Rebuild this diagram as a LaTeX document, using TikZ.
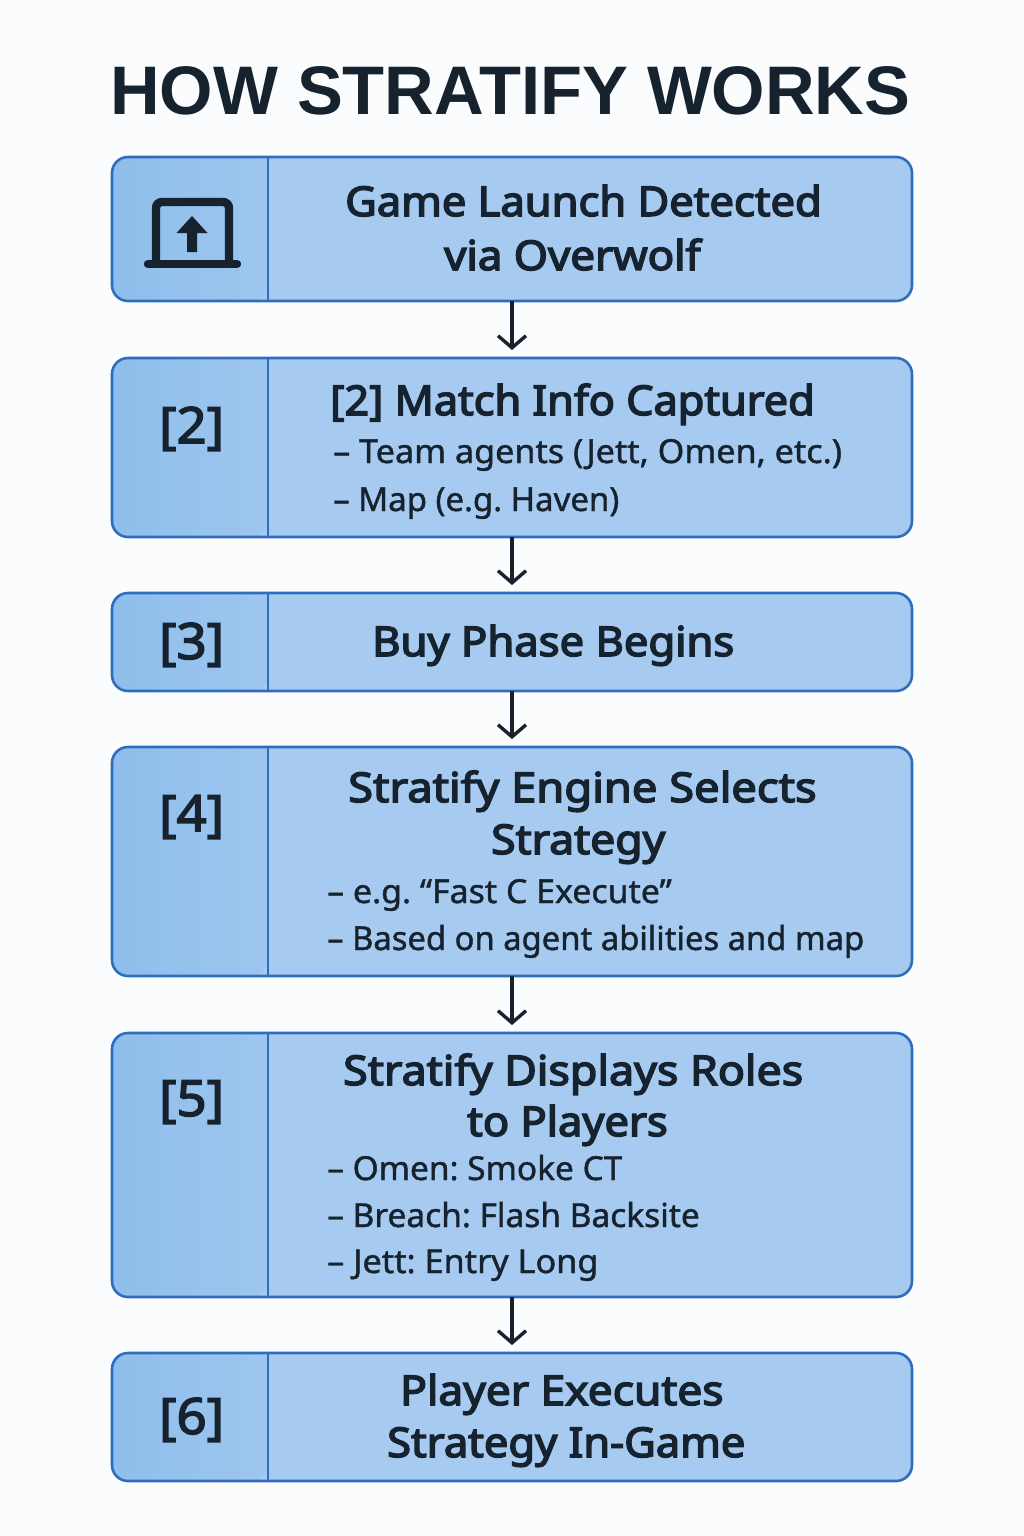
\documentclass[tikz,border=0pt]{standalone}
\usepackage{fontspec}
\setmainfont{Liberation Sans}
\newfontfamily\headfont[FakeStretch=1.055]{Noto Sans}
\newfontfamily\bodyfont{Noto Sans}
\usetikzlibrary{arrows.meta}
\frenchspacing
\definecolor{pagebg}{HTML}{FBFCFD}
\definecolor{edgeblue}{HTML}{2F6DBE}
\definecolor{celllight}{HTML}{A6CAF0}
\definecolor{celldarkA}{HTML}{8FBEEC}
\definecolor{celldarkB}{HTML}{9DC6EF}
\definecolor{inkdark}{HTML}{16232F}
\newcommand{\heavyon}{\special{pdf:code 2 Tr 1.5 w}}
\newcommand{\lighton}{\special{pdf:code 2 Tr 0.4 w}}
\newcommand{\heavyoff}{\special{pdf:code 0 Tr 1 w}}
\newcommand{\lw}[1]{\addfontfeatures{FakeStretch=#1}}
\tikzset{
  x=1pt,y=-1pt,
  panel/.style={draw=none,fill=celllight,rounded corners=16pt,minimum width=800pt,inner sep=0pt,outer sep=0pt},
  panelline/.style={draw=edgeblue,line width=2.6pt,rounded corners=16pt},
  flowarrow/.style={draw=inkdark,line width=3.4pt,-{Straight Barb[length=12pt,width=28pt,line width=3.4pt]},shorten >=8pt},
  title/.style={anchor=base west,inner sep=0pt,text=inkdark,font=\bfseries\fontsize{68.7}{70}\selectfont},
  head/.style={anchor=base west,inner sep=0pt,text=inkdark,font=\headfont\fontsize{41}{41}\selectfont\heavyon,execute at end node=\heavyoff},
  body/.style={anchor=base west,inner sep=0pt,text=inkdark,font=\bodyfont\fontsize{33}{33}\selectfont\lighton,execute at end node=\heavyoff},
  tag/.style={anchor=base west,inner sep=0pt,text=inkdark,font=\headfont\fontsize{50}{50}\selectfont\heavyon,execute at end node=\heavyoff},
  icon/.style={draw=inkdark,line width=8.4pt}
}
\newcommand{\stepbox}[3]{%
  \node[panel,minimum height=#3-#2] (#1) at (512,{(#2+#3)/2}) {};
  \path[left color=celldarkA,right color=celldarkB,rounded corners=16pt]
    (268,#2) -- (#1.north west) -- (#1.south west) -- (268,#3) [sharp corners] -- cycle;
  \draw[panelline] (#1.north west) rectangle (#1.south east);
  \draw[edgeblue,line width=2.6pt] (268,#2) -- (268,#3);
}
\begin{document}
\begin{tikzpicture}
\useasboundingbox[fill=pagebg] (0,0) rectangle (1024,1536);
\node[title] (ttl) at (110,114) {HOW STRATIFY WORKS};

\stepbox{b1}{157}{301}
\stepbox{b2}{358}{537}
\stepbox{b3}{593}{691}
\stepbox{b4}{747}{976}
\stepbox{b5}{1033}{1297}
\stepbox{b6}{1353}{1481}

\draw[flowarrow] (b1.south) -- (b2.north);
\draw[flowarrow] (b2.south) -- (b3.north);
\draw[flowarrow] (b3.south) -- (b4.north);
\draw[flowarrow] (b4.south) -- (b5.north);
\draw[flowarrow] (b5.south) -- (b6.north);

% laptop icon
\draw[icon,rounded corners=6pt] (156,261) -- (156,202) -- (229,202) -- (229,261);
\draw[icon,line cap=round] (148,264) -- (237,264);
\fill[inkdark] (192,216) -- (207.5,233) -- (197,233) -- (197,252) -- (187,252) -- (187,233) -- (176.5,233) -- cycle;

\node[head] (t1a) at (345,216) {\lw{1.06}Game Launch Detected};
\node[head] (t1b) at (444,270) {\lw{1.07}via Overwolf};

\node[tag] (n2) at (159,443) {[2]};
\node[head] (t2a) at (330,415) {[2] Match Info Captured};
\node[body] (t2b) at (333,463) {\lw{1.035}– Team agents (Jett, Omen, etc.)};
\node[body] (t2c) at (333,511) {– Map (e.g. Haven)};

\node[tag] (n3) at (159,659) {[3]};
\node[head] (t3a) at (372,656) {\lw{1.063}Buy Phase Begins};

\node[tag] (n4) at (159,831) {[4]};
\node[head] (t4a) at (348,802) {\lw{1.105}Stratify Engine Selects};
\node[head] (t4b) at (491,854) {\lw{1.085}Strategy};
\node[body] (t4c) at (327,903) {\lw{1.027}– e.g. “Fast C Execute”};
\node[body] (t4d) at (327,950) {\lw{0.993}– Based on agent abilities and map};

\node[tag] (n5) at (159,1116) {[5]};
\node[head] (t5a) at (343,1085) {\lw{1.092}Stratify Displays Roles};
\node[head] (t5b) at (467,1136) {\lw{1.06}to Players};
\node[body] (t5c) at (327,1180) {\lw{1.014}– Omen: Smoke CT};
\node[body] (t5d) at (327,1227) {\lw{1.014}– Breach: Flash Backsite};
\node[body] (t5e) at (327,1273) {\lw{1.037}– Jett: Entry Long};

\node[tag] (n6) at (159,1434) {[6]};
\node[head] (t6a) at (400,1405) {\lw{1.08}Player Executes};
\node[head] (t6b) at (387,1457) {\lw{1.06}Strategy In-Game};
\end{tikzpicture}
\end{document}
